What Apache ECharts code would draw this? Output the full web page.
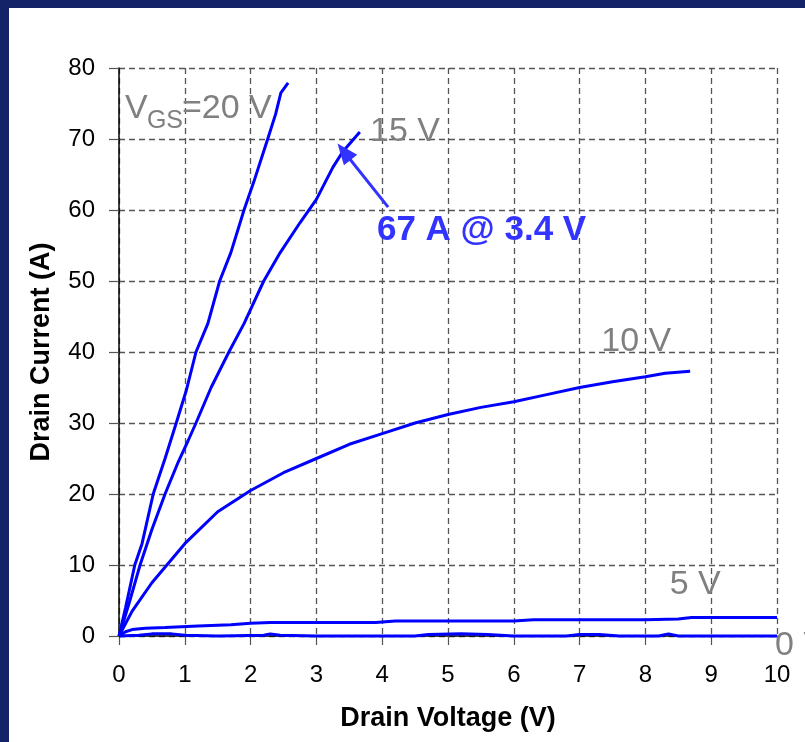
<!DOCTYPE html>
<html>
<head>
<meta charset="utf-8">
<script src="https://cdn.jsdelivr.net/npm/echarts@6/dist/echarts.min.js"></script>
<style>
html,body{margin:0;padding:0;background:#142368;}
#c{width:805px;height:742px;}
</style>
</head>
<body>
<div id="c"></div>
<script>
// ---- data (Drain Voltage V, Drain Current A) ----
const xTicks = [0,1,2,3,4,5,6,7,8,9,10];
const yTicks = [0,10,20,30,40,50,60,70,80];

const vgs20 = [[0,0],[0.1,4],[0.24,10],[0.35,13],[0.52,20],[0.7,25],[0.87,30],[1.02,34.5],[1.17,40],[1.35,44],[1.53,50],[1.7,54],[1.9,60],[2.05,64],[2.26,70],[2.38,73.5],[2.46,76.5],[2.57,77.9]];
const vgs15 = [[0,0],[0.15,4.5],[0.32,10],[0.5,15],[0.7,20],[0.9,24.5],[1.05,27.5],[1.17,30],[1.4,35],[1.67,40],[1.9,44],[2.2,50],[2.45,54],[2.75,58.2],[3.0,61.5],[3.25,66],[3.4,68.2],[3.66,71]];
const vgs10 = [[0,0],[0.2,3.5],[0.5,7.5],[1,13],[1.5,17.5],[2,20.5],[2.5,23],[3,25],[3.5,27],[4,28.5],[4.5,30],[5,31.2],[5.5,32.2],[6,33],[6.5,34],[7,35],[7.5,35.8],[8,36.5],[8.3,37],[8.68,37.3]];
const vgs5 = [[0,0],[0.1,0.6],[0.2,0.9],[0.4,1.1],[0.7,1.2],[1.2,1.4],[1.7,1.6],[2,1.8],[2.3,1.9],[3,1.9],[3.9,1.9],[4.2,2.1],[5,2.1],[6,2.1],[6.3,2.3],[7,2.3],[8,2.3],[8.5,2.4],[8.7,2.6],[10,2.6]];
const vgs0 = [[0,0],[0.3,0.1],[0.5,0.3],[0.8,0.3],[1.0,0.1],[1.5,0],[2.2,0.1],[2.3,0.3],[2.45,0.1],[3,0],[4.5,0],[4.7,0.2],[5.2,0.3],[5.6,0.2],[6,0],[6.8,0],[7,0.2],[7.3,0.2],[7.6,0],[8.2,0],[8.35,0.3],[8.5,0],[10,0]];

const vgsLabelParts = ['V', 'GS', '=20 V'];
const vgsLabelAt = [0.09, 74.3];
const curveLabels = [
  {text:'15 V', at:[3.815,71.0]},
  {text:'10 V', at:[7.33,41.4]},
  {text:'5 V', at:[8.37,7.18]},
  {text:'0 V', at:[9.97,-1.3]}
];
const noteText = '67 A @ 3.4 V';
const noteAt = [3.92,57.2];
const arrowFrom = [4.09,60.4];
const arrowTo = [3.42,68.2];

// ---- chart ----
const chart = echarts.init(document.getElementById('c'), null, {renderer:'canvas'});
const FONT = 'Liberation Sans, Arial, sans-serif';
const lineSeries = (name, data) => ({
  name, type:'line', data, showSymbol:false, symbol:'none', smooth:false,
  lineStyle:{color:'#0000ff', width:3}, clip:false, z:3
});

const option = {
  animation:false,
  backgroundColor:'#142368',
  grid:{left:119, right:28, top:68, bottom:106, containLabel:false},
  xAxis:{
    type:'value', min:0, max:10, interval:1,
    name:'Drain Voltage (V)', nameLocation:'middle', nameGap:69,
    nameTextStyle:{fontFamily:FONT, fontSize:27, fontWeight:'bold', color:'#000'},
    axisLine:{show:true, onZero:false, lineStyle:{color:'#000', width:1.5}},
    axisTick:{show:true, inside:false, length:9, lineStyle:{color:'#555', width:1.2}},
    axisLabel:{fontFamily:FONT, fontSize:24, color:'#000', margin:27,
      formatter:v => xTicks.includes(v) ? String(v) : ''},
    splitLine:{show:true, lineStyle:{color:'#555', type:[6,4], width:1.3}}
  },
  yAxis:{
    type:'value', min:0, max:80, interval:10,
    name:'Drain Current (A)', nameLocation:'middle', nameGap:64,
    nameTextStyle:{fontFamily:FONT, fontSize:27, fontWeight:'bold', color:'#000'},
    axisLine:{show:true, lineStyle:{color:'#000', width:1.5}},
    axisTick:{show:true, inside:false, length:10, lineStyle:{color:'#555', width:1.2}},
    axisLabel:{fontFamily:FONT, fontSize:24, color:'#000', margin:24,
      formatter:v => yTicks.includes(v) ? String(v) : ''},
    splitLine:{show:true, lineStyle:{color:'#555', type:[6,4], width:1.3}}
  },
  series:[
    lineSeries('0 V', vgs0),
    lineSeries('5 V', vgs5),
    lineSeries('10 V', vgs10),
    Object.assign(lineSeries('15 V', vgs15), {
      markLine:{
        silent:true, animation:false,
        symbol:['none','triangle'], symbolSize:[17,21],
        lineStyle:{color:'#3333ff', width:3, type:'solid'},
        label:{show:false},
        data:[[{coord:arrowFrom},{coord:arrowTo}]]
      }
    }),
    lineSeries('20 V', vgs20)
  ]
};
chart.setOption(option);

// labels placed through the axes' scales
const px = p => chart.convertToPixel({gridIndex:0}, p);
const gray = '#808080';
const gfx = [{type:'rect', id:'panel', z:-1, silent:true,
  shape:{x:9, y:8, width:805, height:742}, style:{fill:'#ffffff'}}];
curveLabels.forEach((l, i) => {
  const p = px(l.at);
  gfx.push({
    type:'text', id:'lab'+i, z:10, silent:true, x:p[0], y:p[1],
    style:{text:l.text, fill:gray, font:'34px ' + FONT, align:'left', verticalAlign:'middle'}
  });
});
// V_GS = 20 V with subscript
const vp = px(vgsLabelAt);
const subDx = [0, 22, 57], subDy = [0, 13, 0], subSize = [34, 25, 34];
vgsLabelParts.forEach((t, i) => {
  gfx.push({type:'text', id:'vgs'+i, z:10, silent:true, x:vp[0] + subDx[i], y:vp[1] + subDy[i],
    style:{text:t, fill:gray, font:subSize[i] + 'px ' + FONT, align:'left', verticalAlign:'middle'}});
});
const np = px(noteAt);
gfx.push({type:'text', id:'note', z:10, silent:true, x:np[0], y:np[1],
  style:{text:noteText, fill:'#3333ff', font:'bold 35px ' + FONT, align:'left', verticalAlign:'middle'}});
chart.setOption({graphic:gfx});
</script>
</body>
</html>
